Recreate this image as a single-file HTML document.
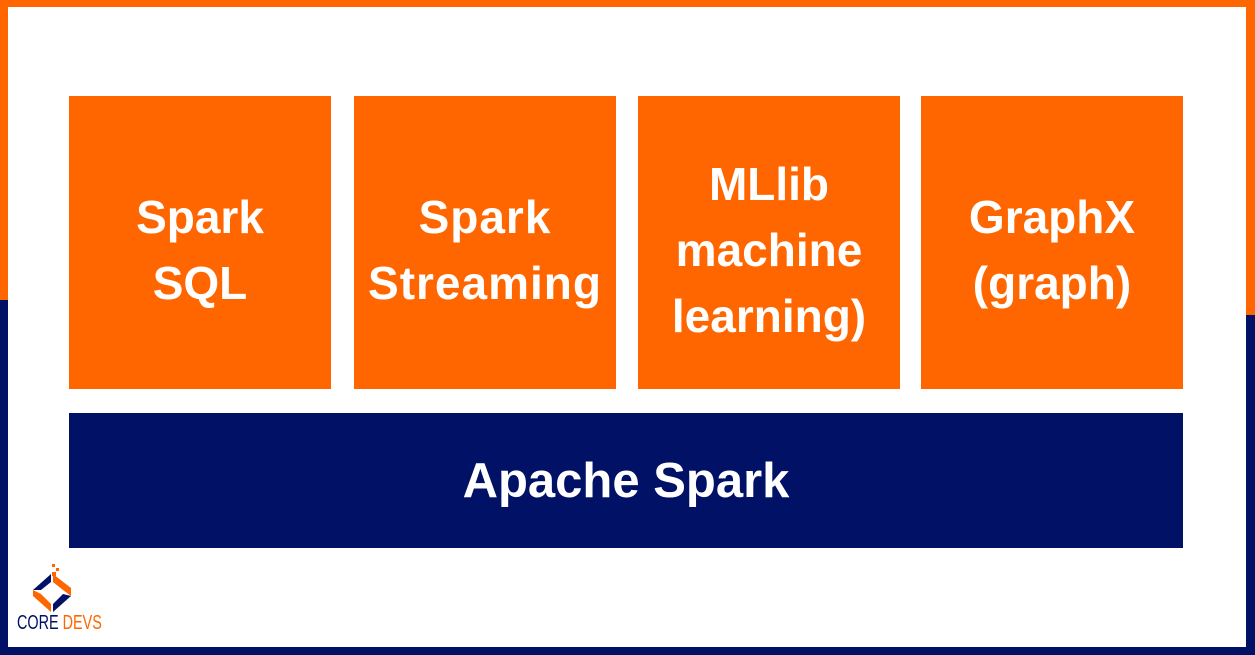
<!DOCTYPE html>
<html><head><style>
*{margin:0;padding:0}
body{width:1255px;height:655px;position:relative;background:#fff;overflow:hidden;font-family:"Liberation Sans",sans-serif}
.b{position:absolute}
.box{position:absolute;top:96px;height:293px;width:262px;background:#ff6600;color:#fff;font-weight:bold;font-size:46px;line-height:66px;display:flex;align-items:center;justify-content:center;text-align:center;box-sizing:border-box;padding-top:14px}
</style></head><body>
<div class="b" style="left:0;top:0;width:1255px;height:7px;background:#ff6600"></div>
<div class="b" style="left:0;top:0;width:8px;height:300px;background:#ff6600"></div>
<div class="b" style="left:0;top:300px;width:8px;height:355px;background:#001166"></div>
<div class="b" style="left:1246px;top:0;width:9px;height:315px;background:#ff6600"></div>
<div class="b" style="left:1246px;top:315px;width:9px;height:340px;background:#001166"></div>
<div class="b" style="left:0;top:647px;width:1255px;height:8px;background:#001166"></div>
<div class="box" style="left:69px">Spark<br>SQL</div>
<div class="box" style="left:354px;letter-spacing:1px">Spark<br>Streaming</div>
<div class="box" style="left:638px">MLlib<br>machine<br>learning)</div>
<div class="box" style="left:921px">GraphX<br>(graph)</div>
<div class="b" style="left:69px;top:413px;width:1114px;height:135px;background:#001166;color:#fff;font-weight:bold;font-size:49px;display:flex;align-items:center;justify-content:center">Apache Spark</div>
<svg class="b" style="left:30px;top:562px" width="44" height="52" viewBox="0 0 44 52">
<rect x="22" y="2" width="3" height="3" fill="#ff6600"/><rect x="26" y="6" width="3" height="3" fill="#ff6600"/><rect x="22" y="10" width="4" height="4" fill="#ff6600"/>
<polygon points="3,28 21,12 21,20 11,28" fill="#001166"/>
<polygon points="3,28 3,34 21,50 21,42 11,32" fill="#ff6600"/>
<polygon points="23,12 41,26 41,34 33,28 23,20" fill="#ff6600"/>
<polygon points="41,34 23,50 23,42 33,32" fill="#001166"/>
</svg>
<div class="b" style="left:17px;top:612px;font-size:20px;transform:scaleX(0.72);transform-origin:left top;white-space:nowrap"><span style="color:#001166">CORE</span> <span style="color:#ff6600">DEVS</span></div>
</body></html>
